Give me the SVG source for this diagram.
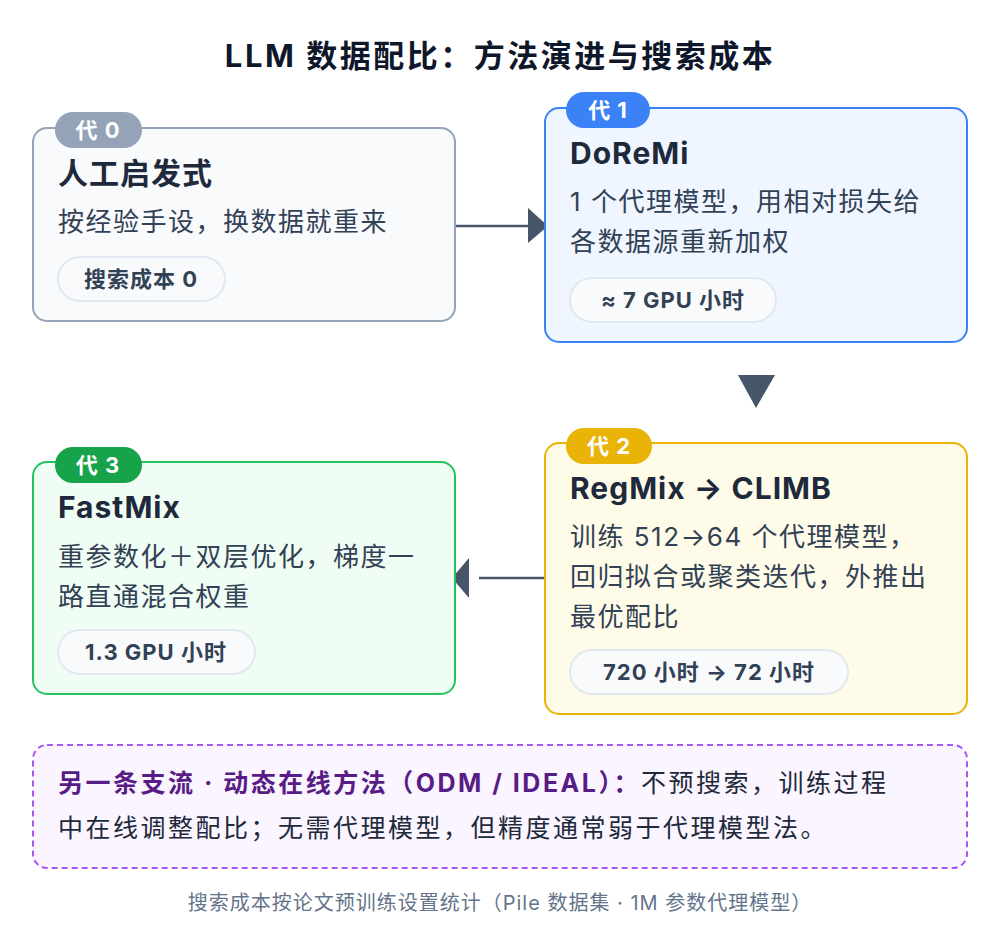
<svg xmlns="http://www.w3.org/2000/svg" width="1000" height="952" viewBox="0 0 1000 952">
<style>
text{font-family:"Inter","Noto Sans CJK SC",sans-serif}
.t{font-size:30px;font-weight:700;fill:#1e293b;letter-spacing:1px}
.d{font-size:26px;fill:#334155;letter-spacing:1.5px}
.n{font-size:25px;fill:#1e293b;letter-spacing:2.5px}
.p{font-size:22px;font-weight:700;fill:#334155;letter-spacing:1px}
.pill{fill:#f8fafc;stroke:#e2e8f0;stroke-width:2}
.b{font-size:22px;font-weight:700;fill:#fff;letter-spacing:1px}
.ln{stroke:#475569;stroke-width:2.5;fill:none}
.ah{fill:#475569}
</style>
<rect width="1000" height="952" fill="#fff"/>
<text x="500" y="67" text-anchor="middle" style="font-size:31px;font-weight:700;fill:#0f172a;letter-spacing:2.5px">LLM 数据配比：方法演进与搜索成本</text>
<g id="connectors">
<line class="ln" x1="456" y1="226" x2="530" y2="226"/>
<polygon class="ah" points="528,208 548,226 528,243"/>
<polygon class="ah" points="738,375 775,375 756,408"/>
<line class="ln" x1="479" y1="578" x2="545" y2="578"/>
<polygon class="ah" points="469,558 452,578 469,598"/>
</g>
<g id="n0">
<rect x="33" y="128" width="422" height="193" rx="14" fill="#f8fafc" stroke="#94a3b8" stroke-width="2"/>
<rect x="55" y="112" width="87" height="36" rx="18" fill="#94a3b8"/>
<text class="b" x="98" y="138" text-anchor="middle">代 0</text>
<text class="t" x="58" y="184">人工启发式</text>
<text class="d" x="58" y="231">按经验手设，换数据就重来</text>
<rect class="pill" x="58" y="257" width="167" height="44" rx="22"/>
<text class="p" x="141" y="287" text-anchor="middle">搜索成本 0</text>
</g>
<g id="n1">
<rect x="545" y="108" width="422" height="234" rx="14" fill="#eff6ff" stroke="#3b82f6" stroke-width="2"/>
<rect x="566" y="92" width="84" height="36" rx="18" fill="#3b82f6"/>
<text class="b" x="608" y="118" text-anchor="middle">代 1</text>
<text class="t" x="570" y="164">DoReMi</text>
<text class="d" x="570" y="211">1 个代理模型，用相对损失给</text>
<text class="d" x="570" y="251">各数据源重新加权</text>
<rect class="pill" x="570" y="278" width="206" height="44" rx="22"/>
<text class="p" x="673" y="308" text-anchor="middle">≈ 7 GPU 小时</text>
</g>
<g id="n2">
<rect x="545" y="443" width="422" height="271" rx="14" fill="#fefce8" stroke="#eab308" stroke-width="2"/>
<rect x="566" y="428" width="86" height="36" rx="18" fill="#eab308"/>
<text class="b" x="609" y="454" text-anchor="middle">代 2</text>
<text class="t" x="570" y="499">RegMix → CLIMB</text>
<text class="d" x="570" y="546">训练 512→64 个代理模型，</text>
<text class="d" x="570" y="586">回归拟合或聚类迭代，外推出</text>
<text class="d" x="570" y="626">最优配比</text>
<rect class="pill" x="570" y="650" width="278" height="44" rx="22"/>
<text class="p" x="709" y="680" text-anchor="middle">720 小时 → 72 小时</text>
</g>
<g id="n3">
<rect x="33" y="462" width="422" height="232" rx="14" fill="#f0fdf4" stroke="#22c55e" stroke-width="2"/>
<rect x="55" y="447" width="87" height="36" rx="18" fill="#16a34a"/>
<text class="b" x="98" y="473" text-anchor="middle">代 3</text>
<text class="t" x="58" y="518">FastMix</text>
<text class="d" x="58" y="566">重参数化＋双层优化，梯度一</text>
<text class="d" x="58" y="606">路直通混合权重</text>
<rect class="pill" x="58" y="630" width="197" height="44" rx="22"/>
<text class="p" x="156" y="660" text-anchor="middle">1.3 GPU 小时</text>
</g>
<g id="note">
<rect x="33" y="745" width="934" height="123" rx="14" fill="#faf5ff" stroke="#a855f7" stroke-width="2" stroke-dasharray="6 4"/>
<text x="58" y="792" class="n"><tspan style="font-weight:700;fill:#581c87">另一条支流 · 动态在线方法（ODM / IDEAL）：</tspan><tspan>不预搜索，训练过程</tspan></text>
<text x="58" y="837" class="n">中在线调整配比；无需代理模型，但精度通常弱于代理模型法。</text>
</g>
<text x="500" y="910" text-anchor="middle" style="font-size:20px;fill:#64748b;letter-spacing:1px">搜索成本按论文预训练设置统计（Pile 数据集 · 1M 参数代理模型）</text>
</svg>
